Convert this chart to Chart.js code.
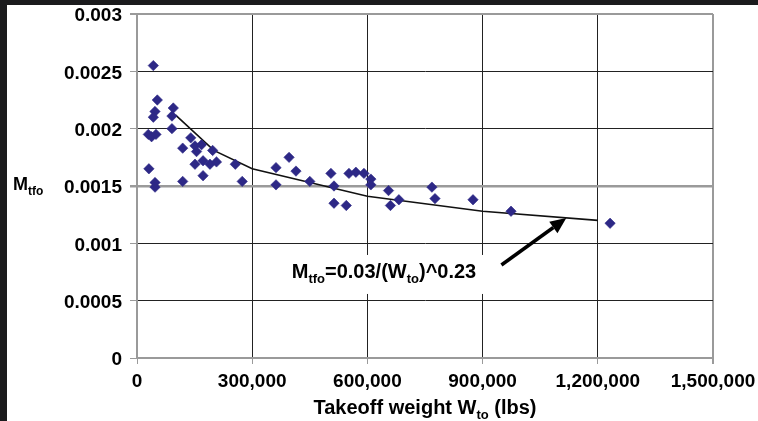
<!DOCTYPE html>
<html><head><meta charset="utf-8">
<script src="https://cdn.jsdelivr.net/npm/chart.js@4.4.0/dist/chart.umd.min.js"></script>
<style>html,body{margin:0;padding:0;background:#fff;}canvas{display:block;}</style>
</head><body>
<canvas id="c" width="758" height="421"></canvas>
<script>
// ---- data ----
const weights = [42500,52900,46800,42500,94500,91000,91000,29500,38000,49400,
  119000,140000,151000,168000,155000,151000,172000,190000,207000,172000,
  256000,274000,119000,31000,47000,47000,362000,362000,396000,414000,
  450000,505000,513000,513000,545000,552000,570000,591000,609000,609000,
  655000,660000,682000,768000,776000,875000,974000,1232000,197000];
const mtfo = [0.00255,0.00225,0.00215,0.00210,0.00218,0.00211,0.00200,0.00195,0.00193,0.00195,
  0.00183,0.00192,0.00185,0.00186,0.00180,0.00169,0.00172,0.00169,0.00171,0.00159,
  0.00169,0.00154,0.00154,0.00165,0.00153,0.00149,0.00166,0.00151,0.00175,0.00163,
  0.00154,0.00161,0.00150,0.00135,0.00133,0.00161,0.00162,0.00161,0.00156,0.00151,
  0.00146,0.00133,0.00138,0.00149,0.00139,0.00138,0.00128,0.001175,0.00181];
const fitWeights = [100000,200000,300000,600000,900000,1200000];
const fitMtfo = [0.00212,0.00181,0.00165,0.00141,0.00128,0.00120];
const xTickLabels = ['0','300,000','600,000','900,000','1,200,000','1,500,000'];
const yTickLabels = ['0','0.0005','0.001','0.0015','0.002','0.0025','0.003'];
// annotation anchors in data units
const labelAnchor = {x: 403000, y: 0.000698};
const arrowTail = {x: 949000, y: 0.000811};
const arrowHead = {x: 1118000, y: 0.00122};

const FONT = "'Liberation Sans', Arial, sans-serif";
const GRAY = '#9a9a9a';
const DARK = '#222222';

function drawSubText(ctx, x, y, parts, big, small) {
  let cx = x;
  for (const [t, sub] of parts) {
    ctx.font = "bold " + (sub ? small : big) + "px " + FONT;
    ctx.fillText(t, cx, sub ? y + 5 : y);
    cx += ctx.measureText(t).width;
  }
  return cx;
}
function measureSub(ctx, parts, big, small) {
  let w = 0;
  for (const [t, sub] of parts) {
    ctx.font = "bold " + (sub ? small : big) + "px " + FONT;
    w += ctx.measureText(t).width;
  }
  return w;
}

const framePlugin = {
  id: 'frame',
  beforeDraw(chart) {
    const ctx = chart.ctx;
    ctx.save();
    ctx.fillStyle = '#fff';
    ctx.fillRect(0, 0, chart.width, chart.height);
    ctx.fillStyle = '#1b1b1d';
    ctx.fillRect(0, 0, chart.width, 5);
    ctx.fillRect(0, 0, 7, chart.height);
    ctx.restore();
  },
  beforeDatasetsDraw(chart) {
    const ctx = chart.ctx, xs = chart.scales.x, ys = chart.scales.y;
    const parts = [['M', false], ['tfo', true], ['=0.03/(W', false], ['to', true], [')^0.23', false]];
    const lx = xs.getPixelForValue(labelAnchor.x), ly = ys.getPixelForValue(labelAnchor.y);
    const w = measureSub(ctx, parts, 20, 13);
    ctx.save();
    ctx.fillStyle = '#fff';
    ctx.fillRect(lx - 7, ly - 23, w + 16, 39);
    ctx.fillStyle = '#000';
    ctx.textBaseline = 'alphabetic';
    drawSubText(ctx, lx, ly, parts, 20, 13);
    ctx.restore();
  },
  afterDraw(chart) {
    const ctx = chart.ctx, xs = chart.scales.x, ys = chart.scales.y;
    ctx.save();
    // arrow
    const x1 = xs.getPixelForValue(arrowTail.x), y1 = ys.getPixelForValue(arrowTail.y);
    const x2 = xs.getPixelForValue(arrowHead.x), y2 = ys.getPixelForValue(arrowHead.y);
    const ang = Math.atan2(y2 - y1, x2 - x1);
    const hl = 16, hw = 7;
    const bx = x2 - hl * Math.cos(ang), by = y2 - hl * Math.sin(ang);
    ctx.strokeStyle = '#000'; ctx.lineWidth = 3.5; ctx.lineCap = 'butt';
    ctx.beginPath(); ctx.moveTo(x1, y1); ctx.lineTo(bx, by); ctx.stroke();
    ctx.fillStyle = '#000';
    ctx.beginPath();
    ctx.moveTo(x2, y2);
    ctx.lineTo(bx + hw * Math.sin(ang), by - hw * Math.cos(ang));
    ctx.lineTo(bx - hw * Math.sin(ang), by + hw * Math.cos(ang));
    ctx.closePath(); ctx.fill();
    // axis titles
    ctx.fillStyle = '#000';
    ctx.textBaseline = 'alphabetic';
    const xt = [['Takeoff weight W', false], ['to', true], [' (lbs)', false]];
    const cx = (chart.chartArea.left + chart.chartArea.right) / 2;
    const tw = measureSub(ctx, xt, 20, 13);
    drawSubText(ctx, cx - tw / 2, 414, xt, 20, 13);
    const yt = [['M', false], ['tfo', true]];
    drawSubText(ctx, 13, ys.getPixelForValue(0.0015) + 4, yt, 18, 12);
    ctx.restore();
  }
};

const scatterData = weights.map((w, i) => ({x: w, y: mtfo[i]}));
const fitData = fitWeights.map((w, i) => ({x: w, y: fitMtfo[i]}));

new Chart(document.getElementById('c'), {
  type: 'scatter',
  data: {
    datasets: [
      {
        type: 'line', data: fitData, borderColor: '#111', borderWidth: 1.6,
        pointRadius: 0, fill: false, tension: 0, order: 2
      },
      {
        data: scatterData, pointStyle: 'rectRot', pointRadius: 5.2,
        backgroundColor: '#2d2886', borderColor: '#2d2886', borderWidth: 0.6, order: 1
      }
    ]
  },
  options: {
    responsive: false, animation: false, devicePixelRatio: 1,
    layout: {padding: {top: 14, right: 45, left: 0, bottom: 0}},
    plugins: {legend: {display: false}, tooltip: {enabled: false}},
    scales: {
      x: {
        type: 'linear', min: 0, max: 1500000,
        afterFit(s) { s.height = 63; s.paddingLeft = 0; s.paddingRight = 0; },
        afterBuildTicks(s) { s.ticks = xTickLabels.map((_, i) => ({value: i * 300000})); },
        ticks: {
          autoSkip: false, maxRotation: 0, padding: 6, color: '#000',
          font: {family: FONT, size: 19, weight: 'bold'},
          callback: (v, i) => xTickLabels[i]
        },
        grid: {
          color: c => (c.index === 5 ? GRAY : (c.index === 0 ? GRAY : DARK)),
          lineWidth: c => (c.index === 5 ? 2 : 1),
          tickColor: GRAY, tickLength: 6, drawTicks: true
        },
        border: {display: true, color: GRAY, width: 2}
      },
      y: {
        type: 'linear', min: 0, max: 0.003,
        afterFit(s) { s.width = 137; s.paddingTop = 0; s.paddingBottom = 0; },
        afterBuildTicks(s) { s.ticks = yTickLabels.map((_, i) => ({value: i * 0.0005})); },
        ticks: {
          autoSkip: false, padding: 8, color: '#000', labelOffset: 2,
          font: {family: FONT, size: 19, weight: 'bold'},
          callback: (v, i) => yTickLabels[i]
        },
        grid: {
          color: c => ((c.index === 3 || c.index === 6 || c.index === 0) ? GRAY : DARK),
          lineWidth: c => (c.index === 3 ? 2.5 : (c.index === 6 ? 2 : 1)),
          tickColor: GRAY, tickLength: 7, drawTicks: true
        },
        border: {display: true, color: GRAY, width: 2}
      }
    }
  },
  plugins: [framePlugin]
});
</script>
</body></html>
